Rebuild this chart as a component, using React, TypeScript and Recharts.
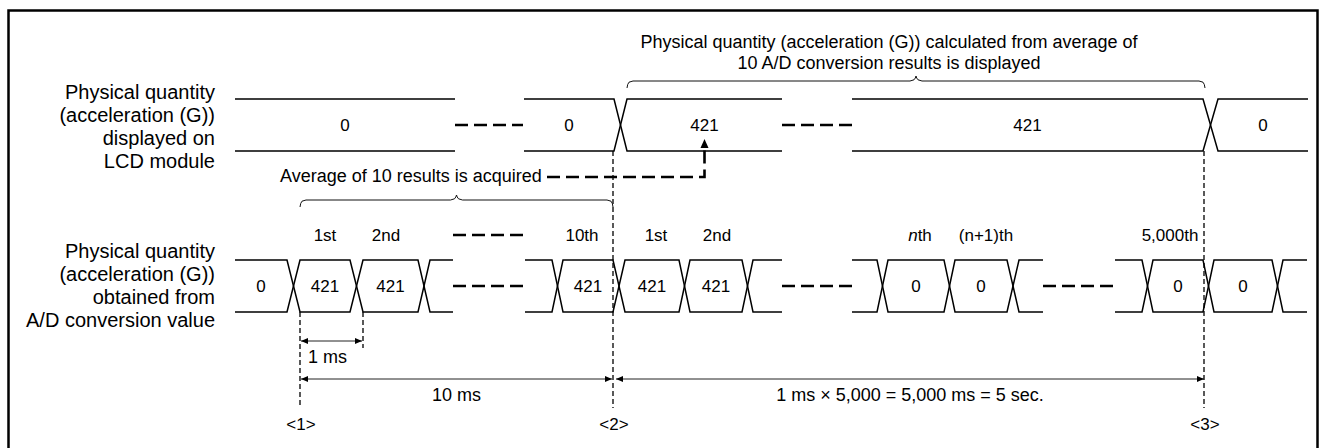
import React from 'react';
import { LineChart, Line, XAxis, YAxis } from 'recharts';

const W = 1319;
const H = 448;
const FONT = '"Liberation Sans", Arial, Helvetica, sans-serif';

// x is the diagram's time axis (same units as the drawing width)
// --- LCD display row ---
const lcdRuns = [
  { from: 235, to: 455, crossings: [] as number[][], values: ['0'] },
  { from: 524, to: 782, crossings: [[614, 627]], values: ['0', '421'] },
  { from: 852, to: 1308, crossings: [[1203, 1218]], values: ['421', '0'] },
];
const lcdGaps = [[455, 523], [782, 852]];

// --- A/D conversion row ---
const adcRuns = [
  { from: 235, to: 453, crossings: [[287, 300], [350, 363], [418, 430]], values: ['0', '421', '421', ''] },
  { from: 525, to: 782, crossings: [[552, 563], [613, 625], [679, 690], [742, 753]], values: ['', '421', '421', '421', ''] },
  { from: 852, to: 1043, crossings: [[877, 888], [944, 955], [1007, 1019]], values: ['', '0', '0', ''] },
  { from: 1115, to: 1307, crossings: [[1142, 1153], [1203, 1214], [1272, 1283]], values: ['', '0', '0', ''] },
];
const adcGaps = [[453, 525], [782, 852], [1043, 1115]];

const ordinalLabels = ['1st', '2nd', '10th', '1st', '2nd', '*n*th', '(n+1)th', '5,000th'];
const ordinalTimes = [325, 386, 582, 656, 717, 920, 986, 1170];
const ordinalGaps = [[453, 525]];

// timing markers <1> <2> <3>
const markerLabels = ['<1>', '<2>', '<3>'];
const markerTimes = [300, 613, 1204];
const markerRows = ['adc', 'lcd', 'lcd'];

// dimension arrows
const spanLabels = ['1 ms', '10 ms', '1 ms \u00d7 5,000 = 5,000 ms = 5 sec.'];
const spanFrom = [301, 301, 616];
const spanTo = [362, 612, 1204];
const spanLevel = ['upper', 'lower', 'lower'];
const oneMsTick = 363;

// braces and captions
const braceFrom = [300, 627];
const braceTo = [613, 1205];
const topCaption = [
  'Physical quantity (acceleration (G)) calculated from average of',
  '10 A/D conversion results is displayed',
];
const acquireCaption = 'Average of 10 results is acquired';
const acquireStart = 280;
const acquireLineStart = 547;

const lcdTitle = ['Physical quantity', '(acceleration (G))', 'displayed on', 'LCD module'];
const adcTitle = ['Physical quantity', '(acceleration (G))', 'obtained from', 'A/D conversion value'];

// ---- layout (vertical positions, px) ----
const LCD = { top: 99, bottom: 151 };
const ADC = { top: 260, bottom: 312 };
const ORD_Y = 235;
const TOP_CAPTION_Y = 42;
const TOP_BRACE_Y = 81;
const ACQ_Y = 177;
const LOW_BRACE_Y = 200;
const SPAN_UPPER_Y = 341;
const SPAN_LOWER_Y = 379;
const MARKER_END_Y = 408;
const MARKER_TEXT_Y = 424;
const TITLE_X = 215;

type Pt = { x: number; y: number | null; [k: string]: any };
type Run = { from: number; to: number; crossings: number[][]; values: string[] };

function busEdges(runs: Run[], row: { top: number; bottom: number }) {
  const upper: Pt[] = [];
  const lower: Pt[] = [];
  runs.forEach((run) => {
    let a = row.top;
    let b = row.bottom;
    upper.push({ x: run.from, y: a });
    lower.push({ x: run.from, y: b });
    run.crossings.forEach(([c0, c1]) => {
      upper.push({ x: c0, y: a });
      lower.push({ x: c0, y: b });
      [a, b] = [b, a];
      upper.push({ x: c1, y: a });
      lower.push({ x: c1, y: b });
    });
    upper.push({ x: run.to, y: a });
    lower.push({ x: run.to, y: b });
    upper.push({ x: run.to, y: null });
    lower.push({ x: run.to, y: null });
  });
  return [upper, lower];
}

function segmentLabels(runs: Run[], row: { top: number; bottom: number }) {
  const out: Pt[] = [];
  const cy = (row.top + row.bottom) / 2;
  runs.forEach((run) => {
    const edges = [run.from, ...run.crossings.flat(), run.to];
    run.values.forEach((v, i) => {
      if (!v) return;
      out.push({ x: (edges[2 * i] + edges[2 * i + 1]) / 2, y: cy, text: v, size: 17 });
    });
  });
  return out;
}

function bracePoints(from: number, to: number, y: number): Pt[] {
  const mid = (from + to) / 2;
  return [
    { x: from, y: y + 7 }, { x: from + 0.7, y: y + 3.5 }, { x: from + 2, y: y + 1.2 }, { x: from + 6, y },
    { x: mid - 6, y }, { x: mid - 2, y: y - 1.2 }, { x: mid - 0.7, y: y - 3 }, { x: mid, y: y - 5 },
    { x: mid + 0.7, y: y - 3 }, { x: mid + 2, y: y - 1.2 }, { x: mid + 6, y },
    { x: to - 6, y }, { x: to - 2, y: y + 1.2 }, { x: to - 0.7, y: y + 3.5 }, { x: to, y: y + 7 },
  ];
}

function renderRich(s: string) {
  const parts = s.split('*');
  return parts.map((p, i) =>
    i % 2 === 1 ? (
      <tspan key={i} fontStyle="italic">{p}</tspan>
    ) : (
      <tspan key={i}>{p}</tspan>
    )
  );
}

const renderText = (props: any) => {
  const { cx, cy, payload, index } = props;
  if (cx == null || cy == null) return <g key={`t${index}`} />;
  const lines: string[] = payload.lines ?? [payload.text];
  const lh = payload.lineHeight ?? 0;
  const y0 = cy - ((lines.length - 1) * lh) / 2;
  return (
    <text
      key={`t${index}`}
      x={cx}
      y={y0}
      textAnchor={payload.anchor ?? 'middle'}
      fontFamily={FONT}
      fontSize={payload.size}
      fill="#000"
    >
      {lines.map((ln, i) => (
        <tspan key={i} x={cx} y={y0 + i * lh} dy="0.35em">
          {renderRich(ln)}
        </tspan>
      ))}
    </text>
  );
};

const renderArrow = (props: any) => {
  const { cx, cy, payload, index } = props;
  if (cx == null || cy == null) return <g key={`a${index}`} />;
  const L = payload.dir === 'up' ? 9 : 7;
  const w = payload.dir === 'up' ? 4 : 3;
  let d = '';
  if (payload.dir === 'left') d = `M${cx},${cy} L${cx + L},${cy - w} L${cx + L},${cy + w} Z`;
  else if (payload.dir === 'right') d = `M${cx},${cy} L${cx - L},${cy - w} L${cx - L},${cy + w} Z`;
  else d = `M${cx},${cy} L${cx - w},${cy + L} L${cx + w},${cy + L} Z`;
  return <path key={`a${index}`} d={d} fill="#000" />;
};

export default function App() {
  const [lcdUpper, lcdLower] = busEdges(lcdRuns, LCD);
  const [adcUpper, adcLower] = busEdges(adcRuns, ADC);
  const lcdMid = (LCD.top + LCD.bottom) / 2;
  const adcMid = (ADC.top + ADC.bottom) / 2;

  const dashRuns: Pt[][] = [
    ...lcdGaps.map(([a, b]) => [{ x: a, y: lcdMid }, { x: b, y: lcdMid }]),
    ...adcGaps.map(([a, b]) => [{ x: a, y: adcMid }, { x: b, y: adcMid }]),
    ...ordinalGaps.map(([a, b]) => [{ x: a, y: ORD_Y }, { x: b, y: ORD_Y }]),
  ];

  const markerLines: Pt[][] = markerTimes.map((t, i) => [
    { x: t, y: markerRows[i] === 'lcd' ? LCD.bottom : ADC.bottom },
    { x: t, y: MARKER_END_Y },
  ]);
  markerLines.push([
    { x: oneMsTick, y: ADC.bottom },
    { x: oneMsTick, y: SPAN_UPPER_Y + 7 },
  ]);

  const spanLines: Pt[][] = spanFrom.map((f, i) => {
    const y = spanLevel[i] === 'upper' ? SPAN_UPPER_Y : SPAN_LOWER_Y;
    return [{ x: f, y }, { x: spanTo[i], y }];
  });

  // the "421" segment on the LCD row that receives the average
  const targetRun = lcdRuns[1];
  const targetX = (targetRun.crossings[0][1] + targetRun.to) / 2;

  const acquirePath: Pt[] = [
    { x: acquireLineStart, y: ACQ_Y },
    { x: targetX, y: ACQ_Y },
    { x: targetX, y: LCD.bottom - 3 },
  ];

  const arrows: Pt[] = [
    ...spanFrom.map((f, i) => ({ x: f, y: spanLevel[i] === 'upper' ? SPAN_UPPER_Y : SPAN_LOWER_Y, dir: 'left' })),
    ...spanTo.map((t, i) => ({ x: t, y: spanLevel[i] === 'upper' ? SPAN_UPPER_Y : SPAN_LOWER_Y, dir: 'right' })),
    { x: targetX, y: LCD.bottom - 12, dir: 'up' },
  ];

  const braces = braceFrom.map((f, i) => bracePoints(f, braceTo[i], i === 0 ? LOW_BRACE_Y : TOP_BRACE_Y));

  const frame: Pt[] = [
    { x: 8.5, y: H },
    { x: 8.5, y: 10.5 },
    { x: W - 1.5, y: 10.5 },
    { x: W - 1.5, y: H },
  ];

  const texts: Pt[] = [
    { x: TITLE_X, y: 126, lines: lcdTitle, lineHeight: 23, anchor: 'end', size: 20 },
    { x: TITLE_X, y: 285, lines: adcTitle, lineHeight: 23, anchor: 'end', size: 20 },
    { x: (braceFrom[1] + braceTo[1]) / 2 - 27, y: TOP_CAPTION_Y + 10.5, lines: topCaption, lineHeight: 21, size: 18 },
    { x: acquireStart, y: ACQ_Y - 1, text: acquireCaption, anchor: 'start', size: 18 },
    ...segmentLabels(lcdRuns, LCD),
    ...segmentLabels(adcRuns, ADC),
    ...ordinalLabels.map((t, i) => ({ x: ordinalTimes[i], y: ORD_Y, text: t, size: 17 })),
    ...spanLabels.map((t, i) => ({
      x: (spanFrom[i] + spanTo[i]) / 2 - (i === 0 ? 4 : 0),
      y: (spanLevel[i] === 'upper' ? SPAN_UPPER_Y : SPAN_LOWER_Y) + 16,
      text: t,
      size: 18,
    })),
    ...markerLabels.map((t, i) => ({ x: markerTimes[i] + 1, y: MARKER_TEXT_Y, text: t, size: 17 })),
  ];

  const base = { dataKey: 'y', isAnimationActive: false, dot: false, activeDot: false, type: 'linear' as const };

  return (
    <div style={{ position: 'absolute', left: 0, top: 0, background: '#fff' }}>
      <LineChart width={W} height={H} margin={{ top: 0, right: 0, bottom: 0, left: 0 }}>
        <XAxis type="number" dataKey="x" domain={[0, W]} allowDataOverflow hide />
        <YAxis type="number" dataKey="y" domain={[0, H]} allowDataOverflow reversed hide />

        <Line {...base} data={frame} stroke="#000" strokeWidth={2.5} />

        <Line {...base} data={lcdUpper} stroke="#000" strokeWidth={1.5} />
        <Line {...base} data={lcdLower} stroke="#000" strokeWidth={1.5} />
        <Line {...base} data={adcUpper} stroke="#000" strokeWidth={1.5} />
        <Line {...base} data={adcLower} stroke="#000" strokeWidth={1.5} />

        {dashRuns.map((d, i) => (
          <Line key={`gap${i}`} {...base} data={d} stroke="#000" strokeWidth={2.6} strokeDasharray="13 6" />
        ))}

        {markerLines.map((d, i) => (
          <Line key={`mk${i}`} {...base} data={d} stroke="#000" strokeWidth={1.3} strokeDasharray="5 3" />
        ))}

        {spanLines.map((d, i) => (
          <Line key={`sp${i}`} {...base} data={d} stroke="#222" strokeWidth={1} />
        ))}

        {braces.map((d, i) => (
          <Line key={`br${i}`} {...base} data={d} stroke="#111" strokeWidth={1} />
        ))}

        <Line {...base} data={acquirePath} stroke="#000" strokeWidth={2.6} strokeDasharray="13 6" />

        <Line {...base} data={arrows} stroke="none" dot={renderArrow} />
        <Line {...base} data={texts} stroke="none" dot={renderText} />
      </LineChart>
    </div>
  );
}
